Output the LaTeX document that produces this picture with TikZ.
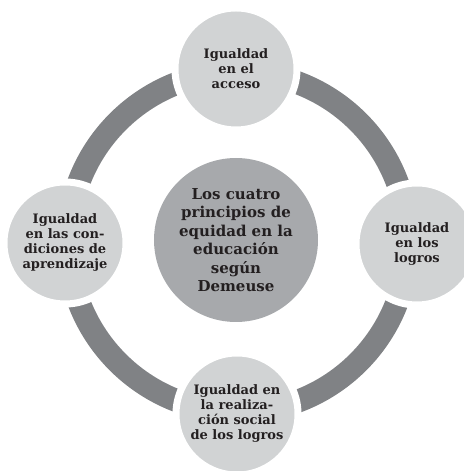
\documentclass[tikz,border=0pt]{standalone}
\usepackage{fontspec}
\setmainfont{DejaVu Serif}
\definecolor{anillo}{HTML}{808285}
\definecolor{claro}{HTML}{D1D3D4}
\definecolor{medio}{HTML}{A7A9AC}
\definecolor{texto}{HTML}{231F20}

\begin{document}
\begin{tikzpicture}[x=1bp,y=1bp,
  principio/.style={circle,fill=claro,draw=white,line width=7bp,minimum size=122bp,
    inner sep=0pt,align=center,text=texto,font=\bfseries\fontsize{13bp}{15bp}\selectfont},
  centro/.style={circle,fill=medio,minimum size=164bp,inner sep=0pt,align=center,
    text=texto,font=\bfseries\fontsize{15bp}{18.5bp}\selectfont}]
\useasboundingbox (-236,-229) rectangle (228,242);
\draw[anillo,line width=23bp] (2,0) circle (170);
\node[centro] (c) at (0,2) {Los cuatro\\principios de\\equidad en la\\educación\\según\\Demeuse};
\node[principio] (acceso) at (0,173) {Igualdad\\en el\\acceso};
\node[principio] (logros) at (181,-2) {Igualdad\\en los\\logros};
\node[principio] (social) at (1,-172) {Igualdad en\\la realiza-\\ción social\\de los logros};
\node[principio] (condiciones) at (-171,-1) {Igualdad\\en las con-\\diciones de\\aprendizaje};
\end{tikzpicture}
\end{document}
